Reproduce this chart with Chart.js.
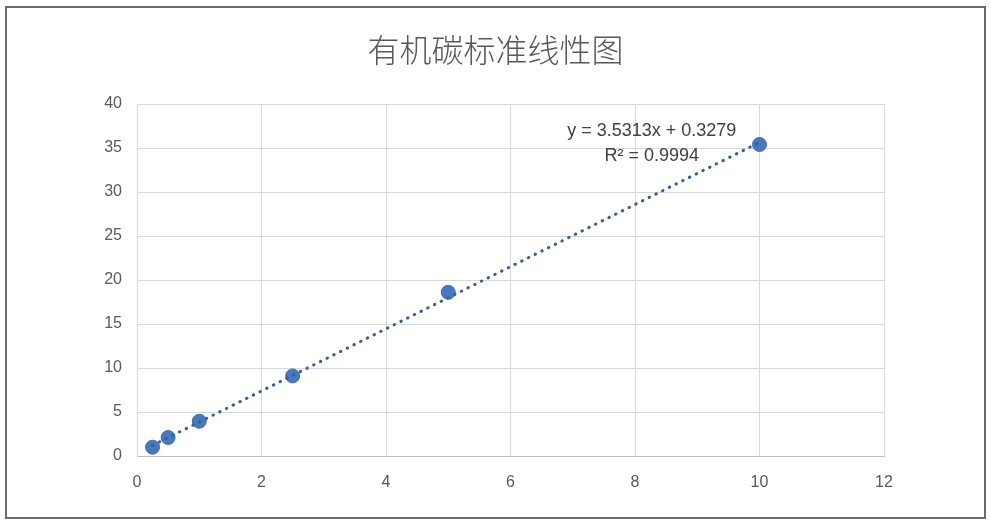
<!DOCTYPE html>
<html>
<head>
<meta charset="utf-8">
<script src="https://cdn.jsdelivr.net/npm/chart.js@4/dist/chart.umd.min.js"></script>
<style>
  html, body { margin: 0; padding: 0; background: #fff; }
  #wrap { position: relative; width: 991px; height: 525px; }
  #frame { position: absolute; left: 5px; top: 6px; width: 977px; height: 509px; border: 2px solid #6b6b6b; pointer-events: none; }
</style>
</head>
<body>
<div id="wrap">
  <canvas id="tocChart" width="991" height="525"></canvas>
  <div id="frame"></div>
</div>
<script>
// standard concentrations (x) and measured response (y)
const concentrations = [0.25, 0.5, 1, 2.5, 5, 10];
const responses = [1.0, 2.1, 3.95, 9.1, 18.6, 35.4];
const slope = 3.5313;
const intercept = 0.3279;
const equationLines = ['y = 3.5313x + 0.3279', 'R² = 0.9994'];
const chartTitle = '有机碳标准线性图';

const pointData = concentrations.map((x, i) => ({x: x, y: responses[i]}));
const xMin = concentrations[0];
const xMax = concentrations[concentrations.length - 1];
const trendData = [
    {x: xMin, y: slope * xMin + intercept},
    {x: xMax, y: slope * xMax + intercept},
];

// draws the trendline equation near the last point
const equationLabel = {
    id: 'equationLabel',
    afterDatasetsDraw(chart) {
        const {ctx, scales} = chart;
        const cx = scales.x.getPixelForValue(8.27);
        ctx.save();
        ctx.font = '18px "Liberation Sans", sans-serif';
        ctx.fillStyle = '#404040';
        ctx.textAlign = 'center';
        ctx.textBaseline = 'middle';
        ctx.fillText(equationLines[0], cx, scales.y.getPixelForValue(36.95));
        ctx.fillText(equationLines[1], cx, scales.y.getPixelForValue(34.1));
        ctx.restore();
    },
};

const tickFont = {family: '"Liberation Sans", sans-serif', size: 16};

new Chart(document.getElementById('tocChart').getContext('2d'), {
    type: 'scatter',
    data: {
        datasets: [
            {
                label: 'trend',
                type: 'line',
                data: trendData,
                borderColor: '#35608f',
                borderWidth: 3,
                borderDash: [0.5, 7],
                borderCapStyle: 'round',
                pointRadius: 0,
                fill: false,
            },
            {
                label: 'standard',
                data: pointData,
                backgroundColor: '#4a78bd',
                borderColor: '#4070b5',
                borderWidth: 1,
                pointRadius: 7,
            },
        ],
    },
    options: {
        responsive: false,
        animation: false,
        layout: {padding: 0},
        plugins: {
            legend: {display: false},
            tooltip: {enabled: false},
            title: {
                display: true,
                text: chartTitle,
                color: '#595959',
                font: {family: '"Noto Sans CJK SC", sans-serif', size: 32, weight: 300, lineHeight: 1.2},
                padding: {top: 31, bottom: 34.6},
            },
        },
        scales: {
            x: {
                type: 'linear',
                min: 0,
                max: 12,
                ticks: {stepSize: 2, color: '#595959', font: tickFont, padding: 17},
                grid: {color: '#d9d9d9', drawTicks: false},
                border: {color: '#bfbfbf'},
                afterFit(scale) { scale.height = 69; },
            },
            y: {
                min: 0,
                max: 40,
                ticks: {stepSize: 5, color: '#595959', font: tickFont, padding: 15},
                grid: {color: '#d9d9d9', drawTicks: false},
                border: {color: '#d9d9d9'},
                afterFit(scale) { scale.width = 137; },
            },
            // empty right axis keeps the plot off the right edge while the title stays centred
            yRight: {
                position: 'right',
                ticks: {display: false},
                grid: {display: false},
                border: {display: false},
                afterFit(scale) { scale.width = 107; },
            },
        },
    },
    plugins: [equationLabel],
});
</script>
</body>
</html>
